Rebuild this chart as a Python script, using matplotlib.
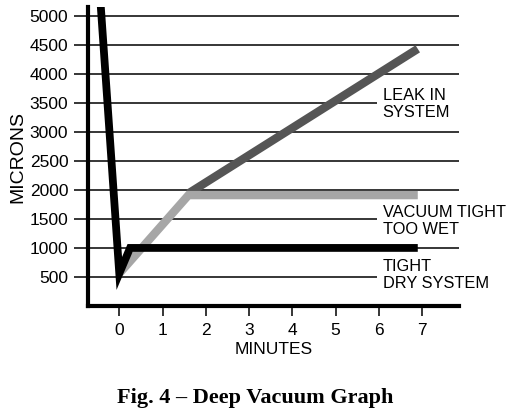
import matplotlib.pyplot as plt

# curves (minutes, microns)
dry_x = [-0.45, 0.0, 0.25, 6.9]
dry_y = [5400, 560, 1000, 1000]
wet_x = [0.0, 1.6, 6.9]
wet_y = [560, 1910, 1910]
leak_x = [1.6, 6.9]
leak_y = [1940, 4430]

x_ticks = [0, 1, 2, 3, 4, 5, 6, 7]
y_ticks = [500, 1000, 1500, 2000, 2500, 3000, 3500, 4000, 4500, 5000]

labels = ["LEAK IN\nSYSTEM", "VACUUM TIGHT\nTOO WET", "TIGHT\nDRY SYSTEM"]
label_y = [3480, 1460, 530]

plt.rcParams['font.family'] = ['Liberation Sans', 'DejaVu Sans']

fig = plt.figure(figsize=(5.15, 4.15), dpi=100)
ax = fig.add_axes([0.1703, 0.2627, 0.891 - 0.1703, 0.983 - 0.2627])

x0, x1 = -0.73, 7.85
text_x = 6.09

# grid lines stop short where a label sits on them
for yv in y_ticks:
    end = x1
    for ly in label_y:
        if abs(ly - yv) < 100:
            end = text_x - 0.14
    ax.hlines(yv, x0, end, color='black', lw=1.1, zorder=1)

ax.plot(leak_x, leak_y, color='#555555', lw=6, solid_capstyle='butt', zorder=4)
ax.plot(wet_x, wet_y, color='#a6a6a6', lw=6, solid_capstyle='butt',
        solid_joinstyle='miter', zorder=5)
ax.plot(dry_x, dry_y, color='black', lw=5.6, solid_capstyle='butt',
        solid_joinstyle='miter', zorder=6)

ax.set_xlim(x0, x1)
ax.set_ylim(0, 5150)
ax.set_xticks(x_ticks)
ax.set_yticks(y_ticks)

for s in ['top', 'right']:
    ax.spines[s].set_visible(False)
for s in ['left', 'bottom']:
    ax.spines[s].set_linewidth(3)
ax.tick_params(axis='y', length=10, width=1.1, pad=4, labelsize=12.5)
ax.tick_params(axis='x', length=7, width=1.1, pad=5, labelsize=12.5)

ax.set_xlabel("MINUTES", fontsize=12.5, labelpad=3)
ax.set_ylabel("MICRONS", fontsize=14, labelpad=2)

for txt, yy in zip(labels, label_y):
    ax.text(text_x, yy, txt, fontsize=11.8, va='center', ha='left', linespacing=1.15,
            zorder=3, clip_on=False)

fig.text(0.495, 0.03, "Fig. 4 \u2013 Deep Vacuum Graph", ha='center', va='baseline',
         fontsize=16, fontweight='bold', family='Liberation Serif')

plt.savefig("out.png", dpi=100)
